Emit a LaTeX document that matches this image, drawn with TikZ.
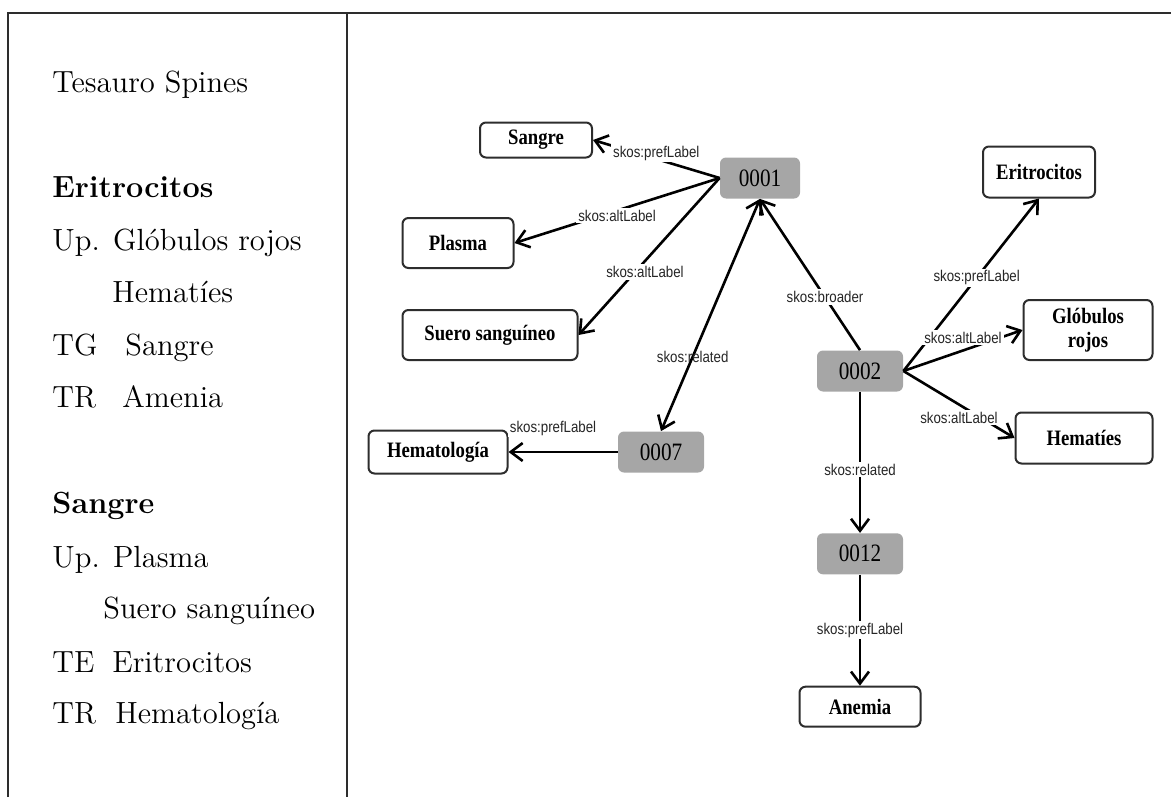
\documentclass[tikz,border=0pt]{standalone}
\usepackage{fontspec}
\usepackage{xcolor}
\usetikzlibrary{arrows.meta,positioning}
\newfontfamily\thesfont{lmroman12-regular.otf}[BoldFont=lmroman12-bold.otf]
\newfontfamily\termfont{Liberation Serif}[FakeStretch=0.85]
\newfontfamily\relfont{Liberation Sans}[FakeStretch=0.85]
\definecolor{idgray}{RGB}{166,166,166}
\definecolor{framegray}{RGB}{45,45,45}

\begin{document}
\begin{tikzpicture}[
  x=0.5pt, y=-0.5pt,
  thes/.style={anchor=base west, inner sep=0pt, font=\thesfont\fontsize{15.3}{18}\selectfont},
  term/.style={draw=framegray, line width=1pt, rounded corners=3pt, fill=white, align=center, inner sep=1pt, font=\termfont\fontsize{11}{12}\selectfont\bfseries},
  concept/.style={fill=idgray, rounded corners=3pt, inner sep=1pt, minimum width=43pt, minimum height=20.5pt, font=\termfont\fontsize{12.5}{13}\selectfont},
  rel/.style={fill=white, inner sep=1pt, text=black!85, font=\relfont\fontsize{7.8}{9}\selectfont},
  arrow/.style={-{Straight Barb[length=6pt,width=9pt]}, line width=1.3pt}
]
\useasboundingbox (0,0) rectangle (1171,797);

% frame and divider
\draw[framegray, line width=1pt] (8,797) |- (1171,13);
\draw[framegray, line width=1pt] (347,13) -- (347,797);

% thesaurus entries
\node[thes] (title) at (52,92) {Tesauro Spines};
\node[thes] (headEritro) at (52,197) {\textbf{Eritrocitos}};
\node[thes] (upGlob) at (52,250) {Up. Glóbulos rojos};
\node[thes] (upHemat) at (112,302) {Hematíes};
\node[thes] (tgSangre) at (52,355) {\makebox[36.5pt][l]{TG}Sangre};
\node[thes] (trAmenia) at (52,407) {\makebox[35pt][l]{TR}Amenia};
\node[thes] (headSangre) at (52,513) {\textbf{Sangre}};
\node[thes] (upPlasma) at (52,567) {Up. Plasma};
\node[thes] (upSuero) at (103,618) {Suero sanguíneo};
\node[thes] (teEritro) at (52,672) {\makebox[30pt][l]{TE}Eritrocitos};
\node[thes] (trHemato) at (52,723) {\makebox[31.5pt][l]{TR}Hematología};

% concepts
\node[concept, minimum width=40pt] (c0001) at (760,178) {0001};
\node[concept] (c0002) at (860,371) {0002};
\node[concept] (c0007) at (661,452) {0007};
\node[concept, below=70.5pt of c0002] (c0012) {0012};

% labels
\node[term, minimum width=56pt, minimum height=17.5pt] (sangre) at (536,140) {Sangre};
\node[term, minimum width=55.5pt, minimum height=25pt] (plasma) at (458,243) {Plasma};
\node[term, minimum width=87.5pt, minimum height=25pt] (suero) at (490,335) {Suero sanguíneo};
\node[term, minimum width=56pt, minimum height=25.5pt] (eritro) at (1039,172) {Eritrocitos};
\node[term, minimum width=64.5pt, minimum height=30pt] (globulos) at (1088,330) {Glóbulos\\rojos};
\node[term, minimum width=68.5pt, minimum height=25.5pt] (hematies) at (1084,438) {Hematíes};
\node[term, minimum width=69.5pt, minimum height=21.5pt] (hemato) at (438,452) {Hematología};
\node[term, minimum width=60.5pt, minimum height=20pt, below=55.5pt of c0012] (anemia) {Anemia};

% relations
\draw[arrow] (c0001.west) -- node[rel, yshift=3pt] {skos:prefLabel} (sangre.east);
\draw[arrow] (c0001.west) -- node[rel, yshift=-2.5pt] {skos:altLabel} (plasma.east);
\draw[arrow] (c0001.west) -- node[rel, pos=0.6, xshift=5pt] {skos:altLabel} (suero.east);
\draw[arrow, {Straight Barb[length=6pt,width=9pt]}-{Straight Barb[length=6pt,width=9pt]}] (c0001.south) -- node[rel, pos=0.68, fill=none] {skos:related} (c0007.north);
\draw[arrow] (c0002.north) -- node[rel, pos=0.35] {skos:broader} (c0001.south);
\draw[arrow] (c0002.east) -- node[rel, pos=0.54] {skos:prefLabel} (eritro.south);
\draw[arrow] (c0002.east) -- node[rel, yshift=6.5pt] {skos:altLabel} (globulos.west);
\draw[arrow] (c0002.east) -- node[rel, yshift=-6.5pt] {skos:altLabel} (hematies.west);
\draw[arrow] (c0002) -- node[rel, pos=0.55] {skos:related} (c0012);
\draw[arrow] (c0012) -- node[rel] {skos:prefLabel} (anemia);
\draw[arrow] (c0007.west) -- node[rel, yshift=12pt, xshift=-5pt] {skos:prefLabel} (hemato.east);
\end{tikzpicture}
\end{document}
